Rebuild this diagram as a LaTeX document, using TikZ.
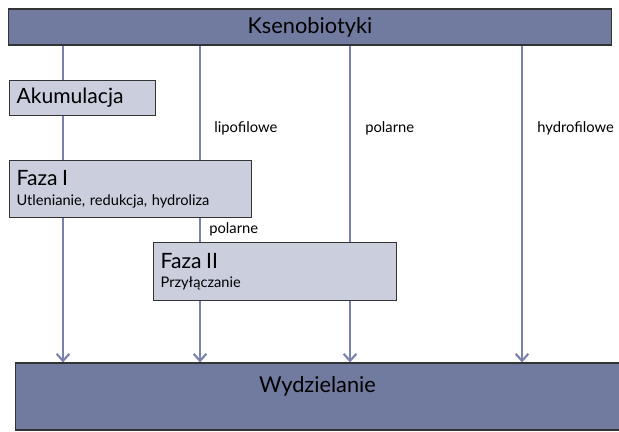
\documentclass[tikz,border=0pt]{standalone}
\usepackage{fontspec}
\setmainfont{Lato}
\usetikzlibrary{arrows.meta,backgrounds}
\definecolor{ksfill}{HTML}{717BA0}
\definecolor{fzfill}{HTML}{CBCEDD}
\definecolor{flowc}{HTML}{7981AC}
\tikzset{
  bigbox/.style={draw=black!80, line width=0.8pt, fill=ksfill, inner sep=0pt, font=\fontsize{15.5}{18}\selectfont},
  fazbox/.style={draw=black!80, line width=0.8pt, fill=fzfill, inner xsep=5pt, inner ysep=0pt, align=left, anchor=north west},
  flow/.style={draw=flowc, line width=1.5pt, -{Straight Barb[length=5pt,width=9pt,line width=1.5pt]}},
  flowlbl/.style={anchor=west, inner sep=0pt, font=\fontsize{10.5}{12}\selectfont},
}
\newcommand\fazbig{\fontsize{15}{18}\selectfont}
\newcommand\fazsmall{\fontsize{10.4}{12}\selectfont}
\begin{document}
\begin{tikzpicture}[x=0.025cm,y=-0.025cm]
\useasboundingbox (0,0) rectangle (619,432);
\node[bigbox, minimum width=15.05cm, minimum height=0.9cm] (ksn) at (310,27) {Ksenobiotyki};
\node[bigbox, minimum width=15.075cm, minimum height=1.675cm,
  label={[anchor=north, yshift=-0.22cm, font=\fontsize{15.5}{18}\selectfont]north:Wydzielanie}] (wyd) at (317.5,396.5) {};
\node[fazbox, text width=3.3cm, minimum height=0.875cm, font=\fazbig] (akum) at (9,80) {Akumulacja};
\node[fazbox, text width=5.7cm, minimum height=1.425cm] (faz1) at (9,160)
  {{\fazbig Faza I}\\[2pt]{\fazsmall Utlenianie, redukcja, hydroliza}};
\node[fazbox, text width=5.725cm, minimum height=1.45cm] (faz2) at (153,242)
  {{\fazbig Faza II}\\[2pt]{\fazsmall Przyłączanie}};
\coordinate (p1) at (63,0);
\coordinate (p2) at (200,0);
\coordinate (p3) at (350,0);
\coordinate (p4) at (522,0);
\begin{scope}[on background layer]
\foreach \p in {p1,p2,p3,p4}
  \draw[flow] (ksn.south -| \p) -- (wyd.north -| \p);
\end{scope}
\node[flowlbl] (lip) at (214,128) {lipofilowe};
\node[flowlbl] (pol) at (365,128) {polarne};
\node[flowlbl] (hyd) at (537,128) {hydrofilowe};
\node[flowlbl] (pol2) at (209,229) {polarne};
\end{tikzpicture}
\end{document}
